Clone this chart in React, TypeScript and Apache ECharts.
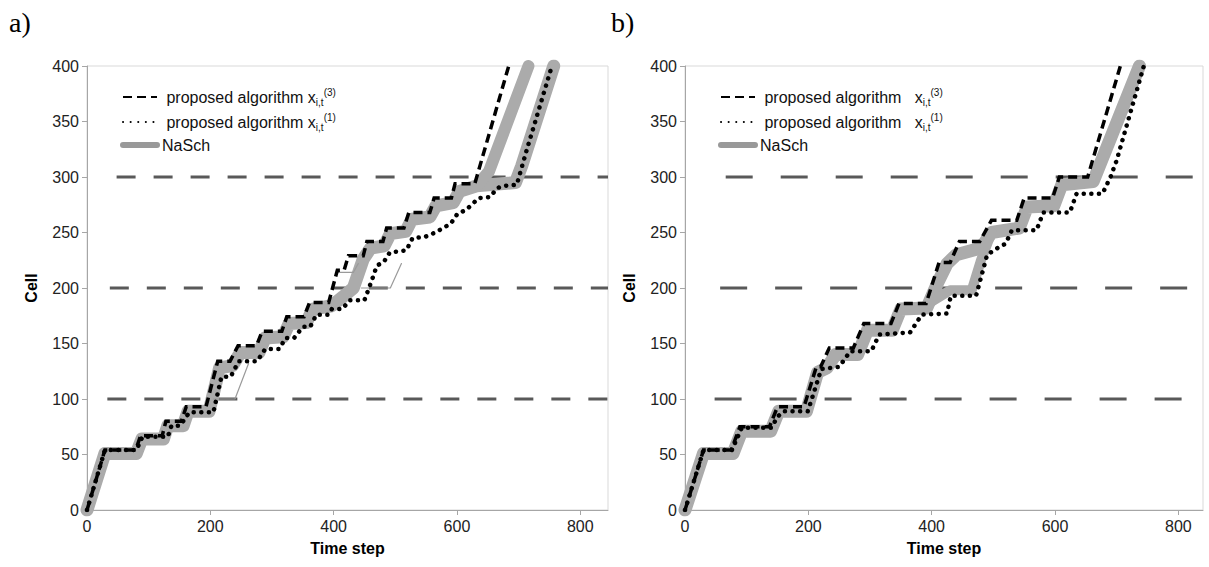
import React, { useEffect, useRef } from 'react';
import * as echarts from 'echarts';

// ---------- data (time step, cell) ----------
const signalCells = [100, 200, 300];
const signalStartA = [33, 37, 48];
const signalEndA = [845, 845, 845];
const signalStartB = [48, 57, 66];
const signalEndB = [813, 831, 831];

const dashedA = [[0,0],[29,54],[79,54],[87,67],[122,67],[128,80],[153,80],[161,93],[193,93],[212,134],[232,134],[245,148],[275,148],[284,161],[316,161],[324,174],[352,174],[361,187],[392,187],[406,216],[417,216],[424,229],[448,229],[454,242],[480,242],[486,254],[514,254],[522,268],[556,268],[563,281],[591,281],[597,294],[629,294],[684,400]];
const dottedA = [[0,0],[29,54],[80,54],[90,66],[131,66],[137,76],[151,76],[166,88],[205,88],[218,120],[233,120],[246,134],[276,134],[289,145],[312,145],[322,155],[336,155],[350,165],[362,165],[372,176],[392,176],[397,181],[414,181],[426,189],[450,189],[462,207],[470,220],[482,224],[491,232],[518,234],[528,245],[548,246],[565,250],[590,258],[601,267],[614,270],[624,275],[635,281],[654,282],[665,290],[676,292],[697,293],[713,324],[754,400]];
const naschA = [[0,0],[29,51],[80,51],[89,64],[124,64],[131,76],[156,76],[164,89],[198,89],[215,128],[236,130],[249,142],[279,142],[289,155],[318,156],[328,168],[356,169],[366,181],[397,184],[415,192],[432,200],[448,226],[460,236],[482,238],[492,249],[517,251],[527,262],[556,264],[566,274],[594,277],[604,287],[632,292],[695,295],[705,310],[757,400]];
const naschA2 = [[632,292],[652,305],[716,400]];
const naschA3 = [[205,100],[240,100],[262,132]];
const naschA4 = [[445,200],[492,200],[510,222]];
const naschA5 = [[405,214],[432,214],[440,222]];

const dashedB = [[0,0],[30,54],[75,54],[89,75],[137,75],[150,93],[193,93],[213,129],[220,129],[234,146],[273,146],[290,168],[334,168],[347,186],[391,186],[412,223],[430,223],[445,242],[478,242],[497,261],[538,261],[550,281],[596,281],[607,300],[653,300],[706,400]];
const dottedB = [[0,0],[30,54],[76,54],[92,74],[140,74],[150,84],[160,89],[199,89],[205,99],[221,127],[250,129],[268,143],[302,143],[315,158],[365,160],[384,176],[425,177],[431,193],[472,193],[490,230],[507,236],[520,240],[530,252],[570,252],[581,268],[624,268],[635,285],[677,285],[690,300],[700,315],[744,400]];
const naschB = [[0,0],[30,51],[78,51],[92,71],[139,71],[152,89],[197,89],[215,124],[230,128],[244,140],[280,140],[296,162],[336,162],[350,181],[392,182],[410,205],[425,222],[440,230],[480,236],[497,250],[542,254],[555,273],[598,274],[611,293],[662,296],[737,400]];
const naschB2 = [[395,186],[430,198],[465,198],[480,225],[497,250]];

// ---------- styling ----------
const FONT = '"Liberation Sans", Arial, sans-serif';
const N3 = 'proposed algorithm x(3)';
const N1 = 'proposed algorithm x(1)';
const NS = 'NaSch';
const GRAY = '#ababab';
const HIDE = { color: 'rgba(0,0,0,0)', borderColor: 'rgba(0,0,0,0)', borderWidth: 0, opacity: 0 };

function legendFor(left: number, spaced: boolean) {
  const gap = spaced ? '  ' : '';
  return {
    left,
    top: 87,
    padding: 0,
    orient: 'vertical',
    itemWidth: 34,
    itemHeight: 14,
    itemGap: 5,
    selectedMode: false,
    data: [
      { name: N3, itemStyle: HIDE },
      { name: N1, itemStyle: HIDE },
      { name: NS, itemStyle: HIDE, lineStyle: { width: 6, color: '#999999', type: 'solid' } },
    ],
    formatter: (name: string) => {
      if (name === N3) return '{t| proposed algorithm' + gap + ' x}{sub|i,t}{sup|(3)}';
      if (name === N1) return '{t| proposed algorithm' + gap + ' x}{sub|i,t}{sup|(1)}';
      return '{t|NaSch}';
    },
    textStyle: {
      color: '#111',
      fontFamily: FONT,
      fontSize: 16,
      rich: {
        t: { fontSize: 16, fontFamily: FONT, color: '#111', lineHeight: 20 },
        sub: { fontSize: 10, fontFamily: FONT, color: '#111', verticalAlign: 'bottom', lineHeight: 20 },
        sup: { fontSize: 10, fontFamily: FONT, color: '#111', verticalAlign: 'top', lineHeight: 14 },
      },
    },
  };
}

function axisPair(gi: number, xmax: number) {
  const x = {
    type: 'value', gridIndex: gi, min: 0, max: xmax, interval: 200,
    axisLine: { show: true, onZero: false, lineStyle: { color: '#a6a6a6', width: 1 } },
    axisTick: { show: true, length: 5, lineStyle: { color: '#a6a6a6' } },
    axisLabel: { color: '#222', fontSize: 16, fontFamily: FONT, margin: 8, showMaxLabel: false },
    splitLine: { show: false },
    name: 'Time step', nameLocation: 'middle', nameGap: 30,
    nameTextStyle: { fontWeight: 'bold', fontSize: 16, fontFamily: FONT, color: '#000' },
  };
  const y = {
    type: 'value', gridIndex: gi, min: 0, max: 400, interval: 50,
    axisLine: { show: true, onZero: false, lineStyle: { color: '#a6a6a6', width: 1 } },
    axisTick: { show: true, length: 5, lineStyle: { color: '#a6a6a6' } },
    axisLabel: { color: '#222', fontSize: 16, fontFamily: FONT, margin: 8 },
    splitLine: { show: false },
    name: 'Cell', nameLocation: 'middle', nameGap: 48, nameRotate: 90,
    nameTextStyle: { fontWeight: 'bold', fontSize: 16, fontFamily: FONT, color: '#000' },
  };
  return { x, y };
}

function line(name: string, gi: number, data: number[][], lineStyle: any, z = 2) {
  return {
    type: 'line', name, xAxisIndex: gi, yAxisIndex: gi, data,
    symbol: 'none', showSymbol: false, silent: true, z,
    itemStyle: { color: lineStyle.color },
    lineStyle,
  };
}

function panelSeries(gi: number, starts: number[], ends: number[], dash: number[], dashed: number[][], dotted: number[][], nas: number[][][]) {
  const s: any[] = [];
  signalCells.forEach((c, i) => {
    s.push(line('signal' + gi + '_' + i, gi, [[starts[i], c], [ends[i], c]], { color: '#595959', width: 3, type: dash, cap: 'butt' }, 1));
  });
  nas.forEach((d, i) => {
    const w = i === 0 ? 13 : (d.length > 3 ? 10 : (i === 1 ? 12 : 1.2));
    s.push(line(NS, gi, d, { color: w > 2 ? GRAY : '#9a9a9a', width: w, type: 'solid', join: 'round', cap: 'round' }, 2));
  });
  s.push(line(N1, gi, dotted, { color: '#000', width: 4.5, type: [0.1, 7.5], cap: 'round', join: 'round' }, 3));
  s.push(line(N3, gi, dashed, { color: '#000', width: 3.5, type: [9, 5], cap: 'butt', join: 'miter' }, 4));
  return s;
}

export default function App() {
  const ref = useRef<HTMLDivElement>(null);
  useEffect(() => {
    const chart = echarts.init(ref.current!, null, { renderer: 'svg' });
    const a = axisPair(0, 845);
    const b = axisPair(1, 840);
    const option: any = {
      animation: false,
      backgroundColor: '#fff',
      grid: [
        { left: 87, top: 66, width: 521, height: 444, show: true, borderColor: '#d9d9d9', borderWidth: 1 },
        { left: 685, top: 66, width: 518, height: 444, show: true, borderColor: '#d9d9d9', borderWidth: 1 },
      ],
      xAxis: [a.x, b.x],
      yAxis: [a.y, b.y],
      legend: [legendFor(120, false), legendFor(718, true)],
      graphic: [
        { type: 'text', left: 9, top: 8, style: { text: 'a)', fontSize: 28, fontFamily: '"Liberation Serif", "Times New Roman", serif', fill: '#000' } },
        { type: 'text', left: 611, top: 8, style: { text: 'b)', fontSize: 28, fontFamily: '"Liberation Serif", "Times New Roman", serif', fill: '#000' } },
      ],
      series: [
        ...panelSeries(0, signalStartA, signalEndA, [19, 18], dashedA, dottedA, [naschA, naschA2, naschA3, naschA4, naschA5]),
        ...panelSeries(1, signalStartB, signalEndB, [27, 28], dashedB, dottedB, [naschB, naschB2]),
      ],
    };
    chart.setOption(option);
    return () => chart.dispose();
  }, []);
  return <div ref={ref} style={{ position: 'absolute', left: 0, top: 0, width: 1209, height: 567, background: '#fff' }} />;
}
